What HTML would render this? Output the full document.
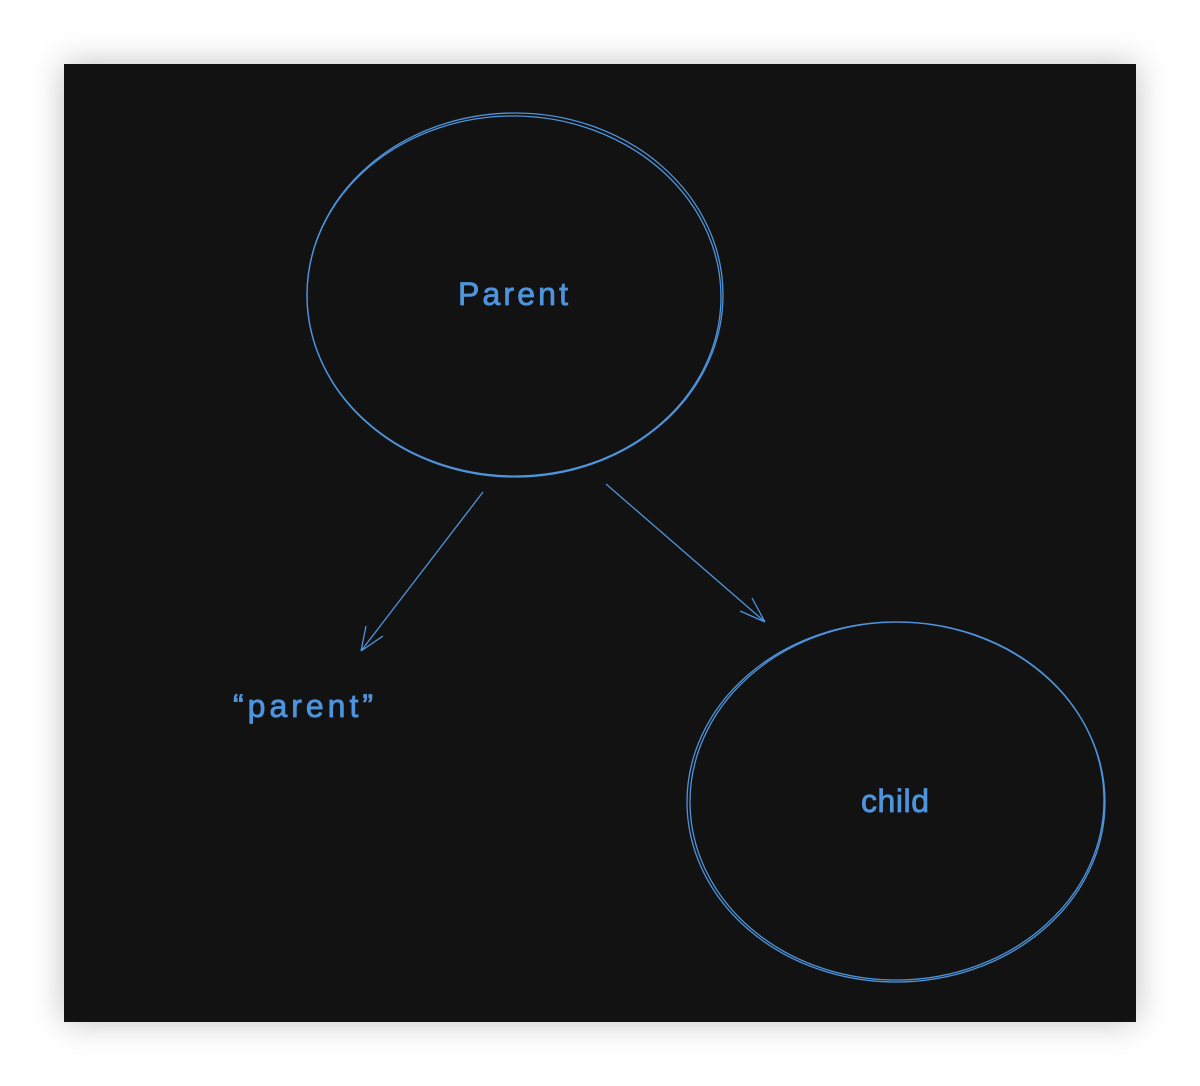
<!DOCTYPE html>
<html><head><style>
html,body{margin:0;padding:0;background:#fff;width:1200px;height:1086px;overflow:hidden}
.bg{position:absolute;left:64px;top:64px;width:1072px;height:958px;background:#121212;box-shadow:0 0 30px rgba(0,0,0,0.25)}
svg{position:absolute;left:0;top:0}
text{font-family:"Liberation Sans",sans-serif;fill:#4e94dc;font-size:32px;letter-spacing:2px;stroke:#4e94dc;stroke-width:0.8}
</style></head><body>
<div class="bg"></div>
<svg width="1200" height="1086">
<g fill="none" stroke="#4e94dc" stroke-width="1.3">
<ellipse cx="515" cy="295" rx="208" ry="182"/>
<ellipse cx="514" cy="296" rx="207" ry="180" transform="rotate(1 514 296)"/>
<ellipse cx="896" cy="802" rx="209" ry="180"/>
<ellipse cx="897" cy="801" rx="207" ry="179" transform="rotate(-1 897 801)"/>
<path d="M483 492 L361 651 M361 651 L366 626 M361 651 L383 636"/>
<path d="M606 484 L765 622 M765 622 L752 598 M765 622 L740 611"/>
</g>
<text x="514" y="305" text-anchor="middle" textLength="112">Parent</text>
<text x="304" y="717" text-anchor="middle" textLength="142">“parent”</text>
<text x="896" y="812" text-anchor="middle" textLength="70">child</text>
</svg>
</body></html>
